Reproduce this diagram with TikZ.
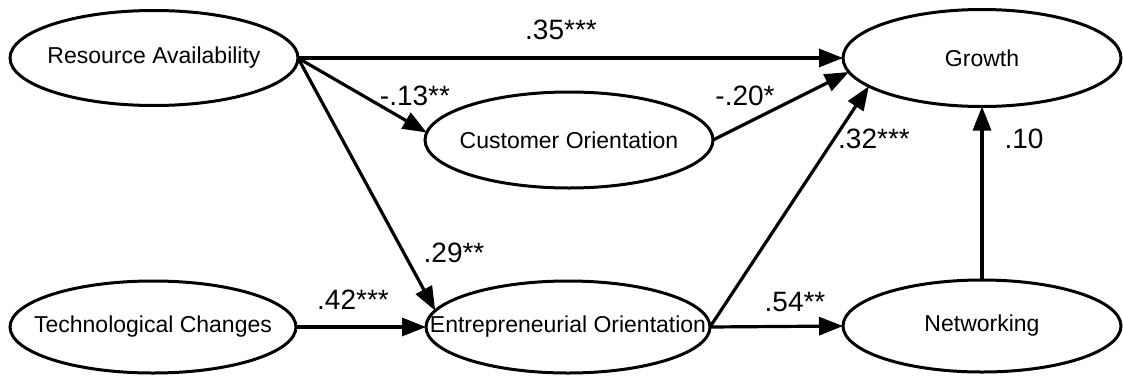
\documentclass[tikz,border=0pt]{standalone}
\usepackage{fontspec}
\setmainfont{Liberation Sans}
\usetikzlibrary{shapes.geometric,arrows.meta}
\newcommand{\ctrtext}[1]{\makebox[0pt][c]{#1}}
\begin{document}
\begin{tikzpicture}[x=1pt,y=-1pt,
  latent/.style={draw, ellipse, line width=3pt, inner sep=0pt, outer sep=0pt, font=\fontsize{23}{27}\selectfont},
  pathway/.style={line width=3.2pt, -{Triangle[length=24pt,width=18pt]}},
  coef/.style={inner sep=0pt, font=\fontsize{28}{32}\selectfont}]
\useasboundingbox (0,0) rectangle (1123,375);
\node[latent, minimum width=288pt, minimum height=95pt] (RA) at (154,58) {\ctrtext{Resource Availability}};
\node[latent, minimum width=278pt, minimum height=97pt] (Growth) at (982,58) {\ctrtext{Growth}};
\node[latent, minimum width=288pt, minimum height=96pt] (CO) at (569,140) {\ctrtext{Customer Orientation}};
\node[latent, minimum width=286pt, minimum height=92pt] (TC) at (153,327) {\ctrtext{Technological Changes}};
\node[latent, minimum width=284pt, minimum height=92pt] (EO) at (568,327) {\ctrtext{Entrepreneurial Orientation}};
\node[latent, minimum width=278pt, minimum height=92pt] (Net) at (982,326) {\ctrtext{Networking}};

\draw[pathway] (RA.east) -- (Growth.west);
\draw[pathway] (RA.east) -- (CO.177);
\draw[pathway] (RA.east) -- (EO.173);
\draw[pathway] (TC.east) -- (EO.west);
\draw[pathway] (CO.east) -- (Growth.186);
\draw[pathway] (EO.east) -- (Growth.194);
\draw[pathway] (EO.east) -- (Net.west);
\draw[pathway] (Net.north) -- (Growth.south);

\node[coef] (l1) at (561,30) {.35***};
\node[coef] (l2) at (415,96) {-.13**};
\node[coef] (l3) at (745,96) {-.20*};
\node[coef] (l4) at (874,139) {.32***};
\node[coef] (l5) at (1024,139) {.10};
\node[coef] (l6) at (454,253) {.29**};
\node[coef] (l7) at (353,300) {.42***};
\node[coef] (l8) at (795,302) {.54**};
\end{tikzpicture}
\end{document}
